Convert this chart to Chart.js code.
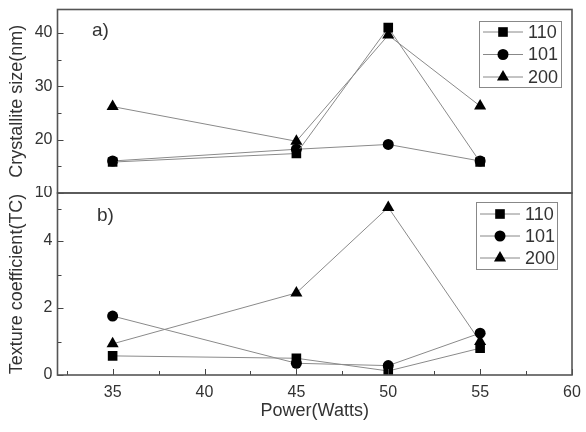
<!DOCTYPE html>
<html>
<head>
<meta charset="utf-8">
<script src="https://cdn.jsdelivr.net/npm/chart.js@4/dist/chart.umd.min.js"></script>
<style>
  html, body { margin: 0; padding: 0; background: #fff; }
  #wrap { position: relative; width: 586px; height: 432px; }
  #top { position: absolute; left: 0; top: 0; }
  #bottom { position: absolute; left: 0; top: 186px; }
</style>
</head>
<body>
<div id="wrap">
  <canvas id="top" width="586" height="200"></canvas>
  <canvas id="bottom" width="586" height="246"></canvas>
</div>
<script>
// data
const power = [35, 45, 50, 55];
const seriesNames = ['110', '101', '200'];
const sizeNm = {
  '110': [15.8, 17.4, 41.0, 15.8],
  '101': [16.0, 18.2, 19.1, 16.0],
  '200': [26.2, 19.7, 39.6, 26.3]
};
const texture = {
  '110': [0.57, 0.50, 0.12, 0.80],
  '101': [1.76, 0.35, 0.28, 1.25],
  '200': [0.93, 2.45, 8.2, 1.00]
};
const sizeTicks = [20, 30, 40];   // 10 is shared with the lower panel
const sizeMarks = [10, 20, 30, 40];
const sizeMinor = [15, 25, 35];
const tcTicks = [0, 2, 4, 10];
const tcMinor = [1, 3, 8];
const powerTicks = [35, 40, 45, 50, 55, 60];
const powerMinor = [32.5, 37.5, 42.5, 47.5, 52.5, 57.5];

const markers = { '110': ['rect', 6.8], '101': ['circle', 5.5], '200': ['triangle', 7] };
const FONT = "'Liberation Sans', Arial, sans-serif";
const TXT = '#333';

// y axis with a break between 4 and 10
const Linear = Chart.LinearScale || Chart.registry.getScale('linear');
const BREAK = 4, LOW_PX = 33.5, HIGH_PX = 8;
function fwd(v) { return v <= BREAK ? v : BREAK + (v - BREAK) * HIGH_PX / LOW_PX; }
class BrokenScale extends Linear {
  getPixelForValue(v) {
    if (v === null || v === undefined) return NaN;
    return this.getPixelForDecimal(fwd(v) / fwd(10));
  }
}
BrokenScale.id = 'broken';
BrokenScale.defaults = Linear.defaults;
Chart.register(BrokenScale);

function marker(ctx, style, r, x, y) {
  ctx.fillStyle = '#000';
  ctx.beginPath();
  if (style === 'rect') {
    const s = r * Math.SQRT1_2;
    ctx.rect(x - s, y - s, 2 * s, 2 * s);
  } else if (style === 'circle') {
    ctx.arc(x, y, r, 0, Math.PI * 2);
  } else {
    const h = r * 1.5, w = r * Math.sqrt(3) / 2;
    ctx.moveTo(x, y - r);
    ctx.lineTo(x + w, y + h - r);
    ctx.lineTo(x - w, y + h - r);
    ctx.closePath();
  }
  ctx.fill();
}

const deco = {
  id: 'deco',
  afterDraw(chart, args, o) {
    const { ctx, chartArea: a, scales } = chart;
    ctx.save();
    // inward ticks
    ctx.strokeStyle = '#444';
    ctx.lineWidth = 1;
    const y = scales.y;
    o.yMajor.forEach(v => { const p = Math.round(y.getPixelForValue(v)) + 0.5; ctx.beginPath(); ctx.moveTo(a.left, p); ctx.lineTo(a.left + 6, p); ctx.stroke(); });
    o.yMinor.forEach(v => { const p = Math.round(y.getPixelForValue(v)) + 0.5; ctx.beginPath(); ctx.moveTo(a.left, p); ctx.lineTo(a.left + 4, p); ctx.stroke(); });
    if (o.xMajor) {
      const x = scales.x;
      o.xMajor.forEach(v => { const p = Math.round(x.getPixelForValue(v)) + 0.5; ctx.beginPath(); ctx.moveTo(p, a.bottom); ctx.lineTo(p, a.bottom - 6); ctx.stroke(); });
      o.xMinor.forEach(v => { const p = Math.round(x.getPixelForValue(v)) + 0.5; ctx.beginPath(); ctx.moveTo(p, a.bottom); ctx.lineTo(p, a.bottom - 4); ctx.stroke(); });
    }
    // frame
    ctx.strokeStyle = '#555';
    ctx.lineWidth = 1.6;
    ctx.strokeRect(a.left, a.top, a.right - a.left, a.bottom - a.top);
    // panel label
    ctx.fillStyle = TXT;
    ctx.font = '19px ' + FONT;
    ctx.textBaseline = 'middle';
    ctx.textAlign = 'left';
    ctx.fillText(o.label, o.labelX, o.labelY);
    // legend
    const L = o.legend;
    ctx.strokeStyle = '#888';
    ctx.lineWidth = 1;
    ctx.strokeRect(L.x + 0.5, L.y + 0.5, L.w, L.h);
    ctx.font = '18px ' + FONT;
    chart.data.datasets.forEach((ds, i) => {
      const yy = L.y + L.row0 + i * L.step;
      ctx.strokeStyle = '#888';
      ctx.beginPath(); ctx.moveTo(L.x + 4, yy); ctx.lineTo(L.x + 44, yy); ctx.stroke();
      marker(ctx, ds.pointStyle, ds.pointRadius, L.x + 24, yy);
      ctx.fillStyle = TXT;
      ctx.fillText(ds.label, L.x + 49, yy + 1);
    });
    ctx.restore();
  }
};

function datasets(values) {
  return seriesNames.map(n => ({
    label: n,
    data: power.map((p, i) => ({ x: p, y: values[n][i] })),
    borderColor: '#8a8a8a',
    borderWidth: 1,
    pointStyle: markers[n][0],
    pointRadius: markers[n][1],
    pointBackgroundColor: '#000',
    pointBorderColor: '#000',
    pointBorderWidth: 0,
    tension: 0
  }));
}

const tickFont = { family: FONT, size: 16 };
const titleFont = { family: FONT, size: 18 };
const noPad = s => { s.paddingTop = 0; s.paddingBottom = 0; s.paddingLeft = 0; s.paddingRight = 0; };

new Chart(document.getElementById('top'), {
  type: 'line',
  data: { datasets: datasets(sizeNm) },
  options: {
    responsive: false,
    animation: false,
    layout: { padding: { top: 9.5, right: 14, bottom: 7, left: 0 } },
    plugins: {
      legend: { display: false },
      tooltip: { enabled: false },
      deco: {
        yMajor: sizeMarks, yMinor: sizeMinor,
        label: 'a)', labelX: 92, labelY: 31,
        legend: { x: 479, y: 21, w: 82, h: 66, row0: 11, step: 22.5 }
      }
    },
    scales: {
      x: { type: 'linear', min: 32, max: 60, display: false },
      y: {
        type: 'linear', min: 10, max: 44.4,
        afterBuildTicks: s => { s.ticks = sizeTicks.map(v => ({ value: v })); },
        afterFit: s => { s.width = 57.5; noPad(s); },
        grid: { display: false, drawTicks: false },
        border: { display: false },
        ticks: { color: TXT, font: tickFont, padding: 5 },
        title: { display: true, text: 'Crystallite size(nm)', color: TXT, font: titleFont, padding: { top: 6, bottom: 0 } }
      }
    }
  },
  plugins: [deco]
});

new Chart(document.getElementById('bottom'), {
  type: 'line',
  data: { datasets: datasets(texture) },
  options: {
    responsive: false,
    animation: false,
    layout: { padding: { top: 7, right: 14, bottom: 0, left: 0 } },
    plugins: {
      legend: { display: false },
      tooltip: { enabled: false },
      deco: {
        yMajor: tcTicks, yMinor: tcMinor, xMajor: powerTicks, xMinor: powerMinor,
        label: 'b)', labelX: 97, labelY: 30,
        legend: { x: 476, y: 16, w: 81, h: 67, row0: 12, step: 22 }
      }
    },
    scales: {
      x: {
        type: 'linear', min: 32, max: 60,
        afterBuildTicks: s => { s.ticks = powerTicks.map(v => ({ value: v })); },
        afterFit: s => { s.height = 57; noPad(s); },
        grid: { display: false, drawTicks: false },
        border: { display: false },
        ticks: { color: TXT, font: tickFont, padding: 8, maxRotation: 0 },
        title: { display: true, text: 'Power(Watts)', color: TXT, font: titleFont, padding: { top: 0, bottom: 10 } }
      },
      y: {
        type: 'broken', min: 0, max: 10,
        afterBuildTicks: s => { s.ticks = tcTicks.map(v => ({ value: v })); },
        afterFit: s => { s.width = 57.5; noPad(s); },
        grid: { display: false, drawTicks: false },
        border: { display: false },
        ticks: { color: TXT, font: tickFont, padding: 5 },
        title: { display: true, text: 'Texture coefficient(TC)', color: TXT, font: titleFont, padding: { top: 6, bottom: 0 } }
      }
    }
  },
  plugins: [deco]
});
</script>
</body>
</html>
